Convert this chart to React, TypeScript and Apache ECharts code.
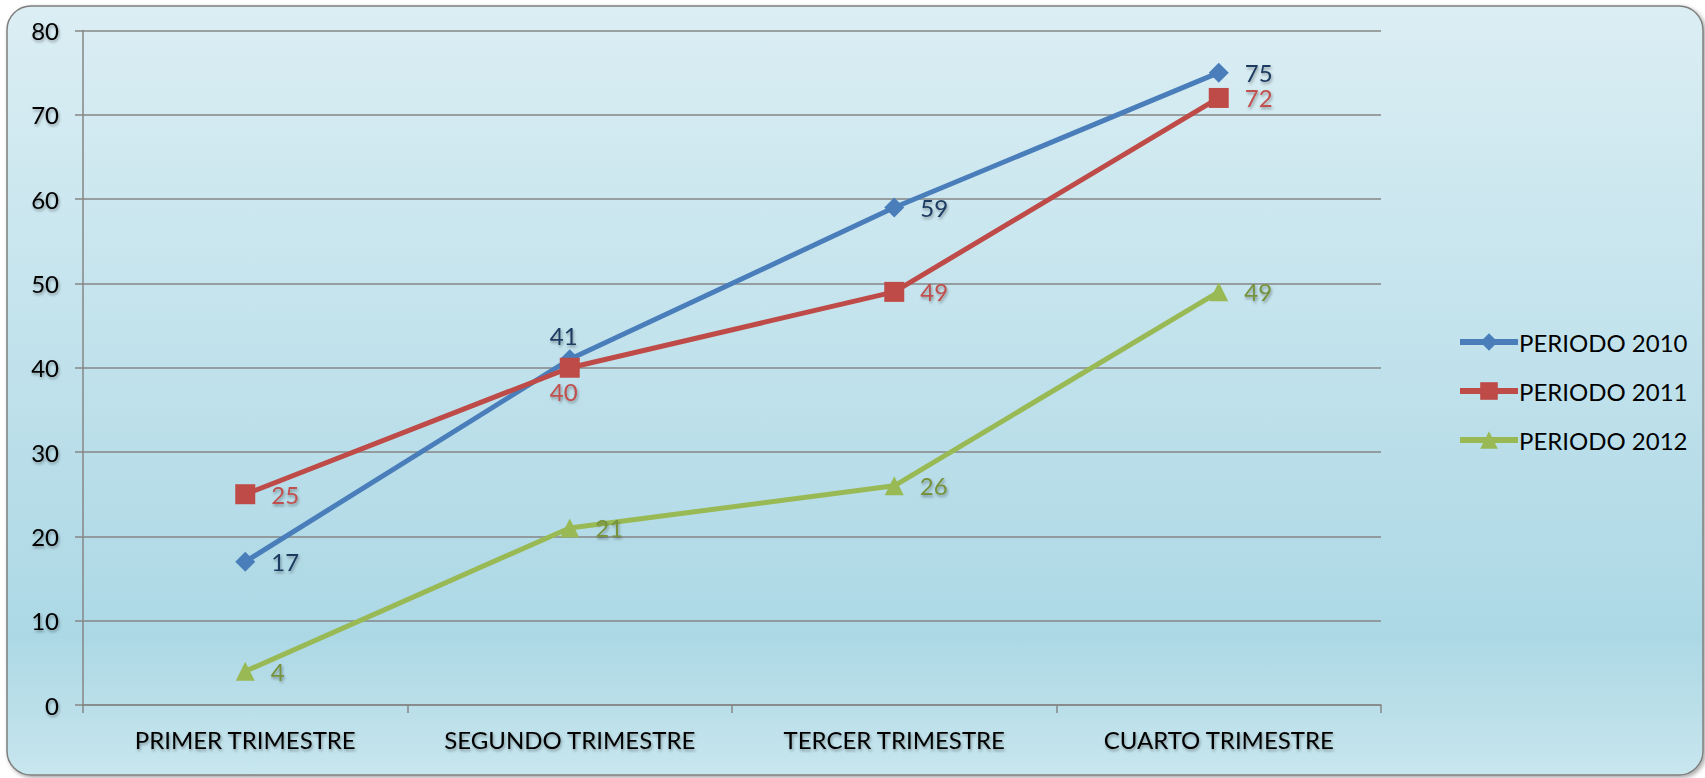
import React, { useEffect, useRef } from "react";
import * as echarts from "echarts";

const categories = ["PRIMER TRIMESTRE", "SEGUNDO TRIMESTRE", "TERCER TRIMESTRE", "CUARTO TRIMESTRE"];
const seriesNames = ["PERIODO 2010", "PERIODO 2011", "PERIODO 2012"];
const values2010 = [17, 41, 59, 75];
const values2011 = [25, 40, 49, 72];
const values2012 = [4, 21, 26, 49];
const yTicks = { min: 0, max: 80, interval: 10 };

const FONT = "Lato, 'Open Sans', sans-serif";
const lineColors = ["#4a7ebb", "#be4b48", "#98b954"];
const labelColors = ["#1f3a60", "#c0504d", "#76923c"];

const shadowText = {
  textShadowColor: "rgba(0,0,0,0.35)",
  textShadowBlur: 3,
  textShadowOffsetX: 1,
  textShadowOffsetY: 2,
};

export default function App() {
  const ref = useRef<HTMLDivElement>(null);
  useEffect(() => {
    document.body.style.margin = "0";
    const chart = echarts.init(ref.current!, null, { renderer: "svg" });
    const mkLabel = (i: number) => ({
      show: true,
      fontFamily: FONT,
      fontSize: 24,
      color: labelColors[i],
      ...shadowText,
      position: "right",
      formatter: (p: any) => String(p.value),
    });
    const dataWithPos = (vals: number[], positions: string[]) =>
      vals.map((v, k) => ({
        value: v,
        label: {
          position: positions[k] as any,
          distance: positions[k] === "right" ? 16 : 2,
          offset: positions[k] === "right" ? [0, 0] : [-6, 0],
        },
      }));
    chart.setOption({
      animation: false,
      graphic: [
        {
          type: "rect",
          silent: true,
          z: -10,
          shape: { x: 7, y: 6, width: 1696, height: 769, r: 24 },
          style: {
            fill: new echarts.graphic.LinearGradient(0, 0, 0, 1, [
              { offset: 0, color: "#dbeef4" },
              { offset: 0.82, color: "#acd8e5" },
              { offset: 1, color: "#c8e6ee" },
            ]),
            stroke: "#7f7f7f",
            lineWidth: 1.5,
            shadowColor: "rgba(0,0,0,0.35)",
            shadowBlur: 4,
            shadowOffsetX: 2,
            shadowOffsetY: 2,
          },
        },
      ],
      grid: { left: 83, right: 324, top: 30.5, bottom: 73, containLabel: false },
      legend: {
        orient: "vertical",
        left: 1452,
        top: 325,
        itemWidth: 58,
        itemHeight: 22,
        itemGap: 25,
        lineStyle: { width: 6 },
        textStyle: { fontFamily: FONT, fontSize: 24, color: "#000", padding: [0, 0, 0, -4] },
        data: seriesNames,
      },
      xAxis: {
        type: "category",
        data: categories,
        boundaryGap: true,
        axisLine: { lineStyle: { color: "#868686", width: 1.5 } },
        axisTick: { show: true, length: 8, lineStyle: { color: "#868686", width: 1.5 } },
        axisLabel: { interval: 0, fontFamily: FONT, fontSize: 24, color: "#000", margin: 22, ...shadowText },
        splitLine: { show: false },
      },
      yAxis: {
        type: "value",
        min: yTicks.min,
        max: yTicks.max,
        interval: yTicks.interval,
        axisLine: { show: true, lineStyle: { color: "#868686", width: 1.5 } },
        axisTick: { show: true, length: 8, lineStyle: { color: "#868686", width: 1.5 } },
        axisLabel: { fontFamily: FONT, fontSize: 24, color: "#000", margin: 24, ...shadowText },
        splitLine: { show: true, lineStyle: { color: "#868686", width: 1.5 } },
      },
      series: [
        {
          name: seriesNames[0],
          type: "line",
          data: dataWithPos(values2010, ["right", "top", "right", "right"]),
          symbol: "diamond",
          symbolSize: 20,
          color: lineColors[0],
          lineStyle: { width: 5, color: lineColors[0] },
          itemStyle: { color: lineColors[0] },
          label: mkLabel(0),
          z: 3,
        },
        {
          name: seriesNames[1],
          type: "line",
          data: dataWithPos(values2011, ["right", "bottom", "right", "right"]),
          symbol: "rect",
          symbolSize: 20,
          color: lineColors[1],
          lineStyle: { width: 5, color: lineColors[1] },
          itemStyle: { color: lineColors[1] },
          label: mkLabel(1),
          z: 4,
        },
        {
          name: seriesNames[2],
          type: "line",
          data: dataWithPos(values2012, ["right", "right", "right", "right"]),
          symbol: "triangle",
          symbolSize: 19,
          color: lineColors[2],
          lineStyle: { width: 5, color: lineColors[2] },
          itemStyle: { color: lineColors[2] },
          label: mkLabel(2),
          z: 2,
        },
      ],
    });
    return () => chart.dispose();
  }, []);
  return <div ref={ref} style={{ width: 1705, height: 778 }} />;
}
